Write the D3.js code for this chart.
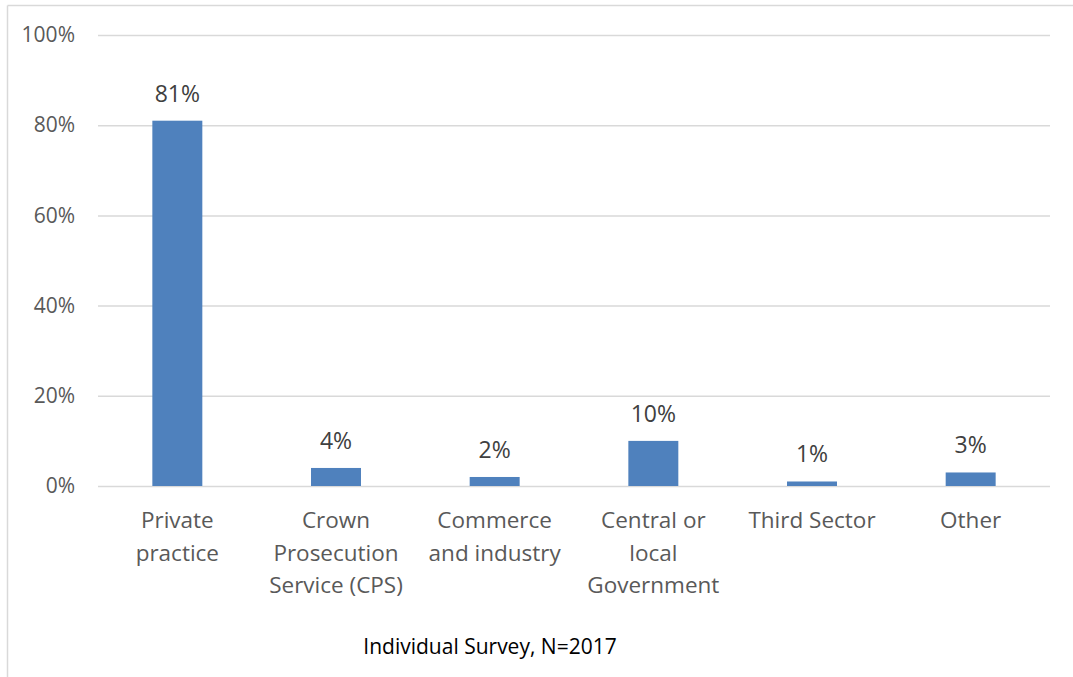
<!DOCTYPE html>
<html>
<head>
<meta charset="utf-8">
<script src="https://cdn.jsdelivr.net/npm/d3@7"></script>
<style>
  html, body { margin: 0; padding: 0; background: #fff; }
  svg { display: block; font-family: "Open Sans", "Noto Sans", sans-serif; }
</style>
</head>
<body>
<svg id="chart" width="1073" height="677"></svg>
<script>
// Sector of employment, share of respondents
const categories = [
  "Private\npractice",
  "Crown\nProsecution\nService (CPS)",
  "Commerce\nand industry",
  "Central or\nlocal\nGovernment",
  "Third Sector",
  "Other"
];
const values = [81, 4, 2, 10, 1, 3];
const yTicks = [0, 20, 40, 60, 80, 100];
const caption = "Individual Survey, N=2017";

const svg = d3.select("#chart");
const W = 1073, H = 677;
const plot = { left: 98, right: 1050, top: 35, bottom: 486 };

// outer frame (top and left edges)
svg.append("line").attr("x1", 7.5).attr("x2", W).attr("y1", 5.5).attr("y2", 5.5)
  .attr("stroke", "#d9d9d9").attr("stroke-width", 1.5);
svg.append("line").attr("x1", 7.5).attr("x2", 7.5).attr("y1", 5.5).attr("y2", H)
  .attr("stroke", "#d9d9d9").attr("stroke-width", 1.5);

const x = d3.scaleBand().domain(categories).range([plot.left, plot.right]).padding(0);
const y = d3.scaleLinear().domain([0, 100]).range([plot.bottom, plot.top]);
const barW = x.bandwidth() * 0.315;

// gridlines + y axis labels
const yAxis = d3.axisLeft(y).tickValues(yTicks).tickFormat(d => d + "%")
  .tickSize(-(plot.right - plot.left)).tickPadding(23);
const gy = svg.append("g").attr("transform", `translate(${plot.left},0)`).call(yAxis);
gy.select(".domain").remove();
gy.selectAll(".tick line").attr("stroke", "#d9d9d9").attr("stroke-width", 1.5);
gy.selectAll(".tick text").attr("fill", "#595959").attr("font-size", 21)
  .attr("font-family", "'Open Sans', sans-serif");

// bars
svg.append("g").selectAll("rect").data(values).join("rect")
  .attr("x", (d, i) => x(categories[i]) + (x.bandwidth() - barW) / 2)
  .attr("y", d => y(d))
  .attr("width", barW)
  .attr("height", d => y(0) - y(d))
  .attr("fill", "#4f81bd");

// value labels
svg.append("g").selectAll("text").data(values).join("text")
  .attr("x", (d, i) => x(categories[i]) + x.bandwidth() / 2)
  .attr("y", d => y(d) - 19)
  .attr("text-anchor", "middle")
  .attr("fill", "#404040")
  .attr("font-size", 23)
  .text(d => d + "%");

// category labels
const gx = svg.append("g");
categories.forEach(c => {
  const t = gx.append("text")
    .attr("x", x(c) + x.bandwidth() / 2)
    .attr("y", 528)
    .attr("text-anchor", "middle")
    .attr("fill", "#595959")
    .attr("font-size", 22.5);
  c.split("\n").forEach((line, j) => {
    t.append("tspan").attr("x", x(c) + x.bandwidth() / 2).attr("dy", j === 0 ? 0 : 32.5).text(line);
  });
});

// caption
svg.append("text").attr("x", 490).attr("y", 654).attr("text-anchor", "middle")
  .attr("fill", "#000").attr("font-size", 21).text(caption);
</script>
</body>
</html>
